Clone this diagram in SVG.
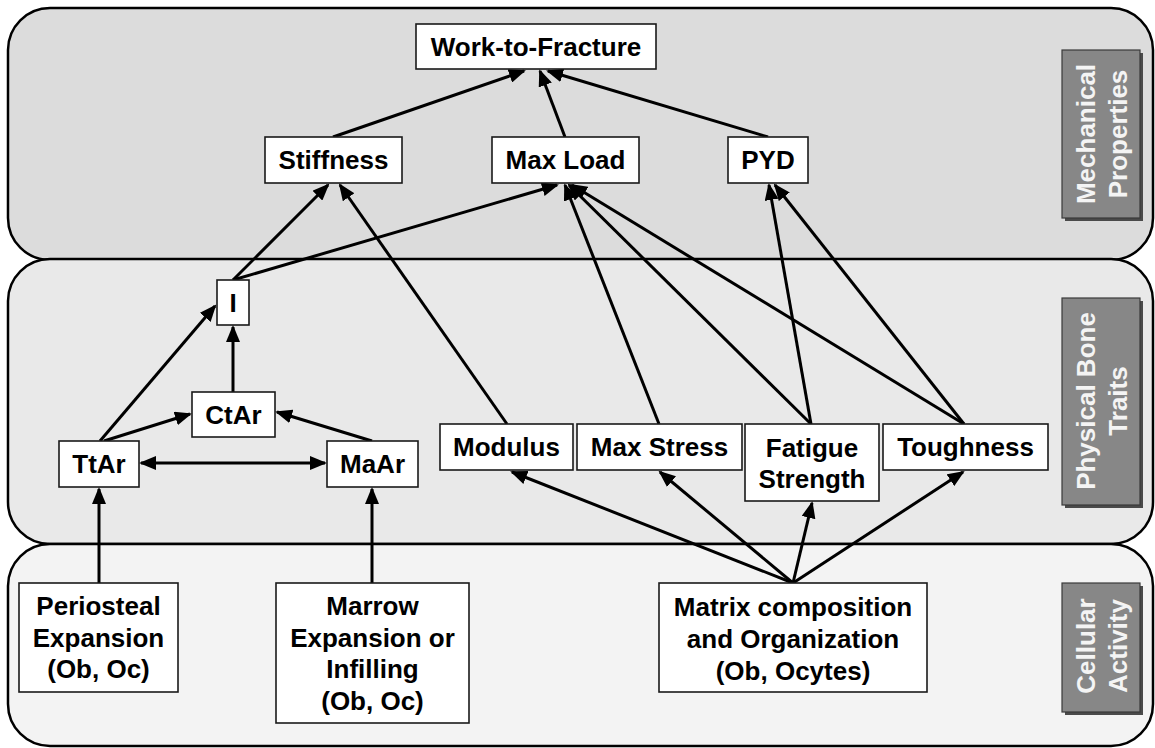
<svg xmlns="http://www.w3.org/2000/svg" width="1155" height="748" viewBox="0 0 1155 748">
<style>
.panel{stroke:#000;stroke-width:2.5}
.node rect{fill:#fff;stroke:#1a1a1a;stroke-width:1.6}
.t{font-family:"Liberation Sans",Arial,Helvetica,sans-serif;font-weight:bold;font-size:26px;fill:#000;text-anchor:middle}
.lab .sh{fill:#4a4a4a}
.lab .bx{fill:#878787;stroke:#3a3a3a;stroke-width:1.2}
.lt{font-family:"Liberation Sans",Arial,Helvetica,sans-serif;font-weight:bold;font-size:26px;fill:#f4f4f4;text-anchor:middle}
.conn line{stroke:#000;stroke-width:3;fill:none}
.arr{marker-end:url(#ah)}
</style>
<defs>
<marker id="ah" viewBox="0 0 17 14" refX="15" refY="7" markerWidth="17" markerHeight="14" markerUnits="userSpaceOnUse" orient="auto-start-reverse">
<path d="M0,0 L17,7 L0,14 z" fill="#000"/>
</marker>
</defs>
<rect width="1155" height="748" fill="#fff"/>
<g id="panels">
<rect class="panel" x="8" y="8" width="1145" height="252" rx="42" ry="42" fill="#dcdcdc"/>
<rect class="panel" x="8" y="259" width="1145" height="285" rx="42" ry="42" fill="#e9e9e9"/>
<rect class="panel" x="8" y="544" width="1145" height="202" rx="42" ry="42" fill="#f3f3f3"/>
</g>
<g id="labels">
<g class="lab" id="lab-mech">
<rect class="sh" x="1065" y="53" width="78" height="168"/>
<rect class="bx" x="1062" y="50" width="78" height="168"/>
<text class="lt" transform="translate(1101,134) rotate(-90)"><tspan x="0" y="-6">Mechanical</tspan><tspan x="0" y="26">Properties</tspan></text>
</g>
<g class="lab" id="lab-phys">
<rect class="sh" x="1065" y="301" width="78" height="207"/>
<rect class="bx" x="1062" y="298" width="78" height="207"/>
<text class="lt" transform="translate(1101,401) rotate(-90)"><tspan x="0" y="-6">Physical Bone</tspan><tspan x="0" y="26">Traits</tspan></text>
</g>
<g class="lab" id="lab-cell">
<rect class="sh" x="1065" y="586" width="78" height="129"/>
<rect class="bx" x="1062" y="583" width="78" height="129"/>
<text class="lt" transform="translate(1101,646) rotate(-90)"><tspan x="0" y="-6">Cellular</tspan><tspan x="0" y="26">Activity</tspan></text>
</g>
</g>
<g id="connectors" class="conn">
<line class="arr" x1="333" y1="137" x2="524" y2="71"/>
<line class="arr" x1="565" y1="137" x2="540" y2="71"/>
<line class="arr" x1="768" y1="137" x2="548" y2="71"/>
<line class="arr" x1="233" y1="280" x2="328" y2="185"/>
<line class="arr" x1="507" y1="424" x2="340" y2="185"/>
<line class="arr" x1="233" y1="280" x2="557" y2="185"/>
<line class="arr" x1="659" y1="424" x2="565" y2="185"/>
<line class="arr" x1="811" y1="424" x2="569" y2="185"/>
<line class="arr" x1="964" y1="424" x2="572" y2="185"/>
<line class="arr" x1="811" y1="424" x2="769" y2="185"/>
<line class="arr" x1="964" y1="424" x2="775" y2="185"/>
<line class="arr" x1="233" y1="392" x2="233" y2="327"/>
<line class="arr" x1="100" y1="441" x2="215" y2="306"/>
<line class="arr" x1="104" y1="441" x2="190" y2="414"/>
<line class="arr" x1="372" y1="441" x2="277" y2="412"/>
<line x1="141" y1="463" x2="325" y2="463" marker-start="url(#ah)" marker-end="url(#ah)"/>
<line class="arr" x1="99" y1="583" x2="99" y2="489"/>
<line class="arr" x1="372" y1="583" x2="372" y2="489"/>
<line class="arr" x1="793" y1="583" x2="512" y2="472"/>
<line class="arr" x1="793" y1="583" x2="660" y2="472"/>
<line class="arr" x1="793" y1="583" x2="812" y2="503"/>
<line class="arr" x1="793" y1="583" x2="963" y2="472"/>
</g>
<g id="n-wtf" class="node"><rect x="416" y="24" width="240" height="45"/><text class="t" x="536" y="55.5">Work-to-Fracture</text></g>
<g id="n-stiffness" class="node"><rect x="265" y="137" width="137" height="46"/><text class="t" x="333.5" y="169">Stiffness</text></g>
<g id="n-maxload" class="node"><rect x="492" y="137" width="147" height="46"/><text class="t" x="565.5" y="169">Max Load</text></g>
<g id="n-pyd" class="node"><rect x="728" y="137" width="80" height="46"/><text class="t" x="768" y="169">PYD</text></g>
<g id="n-i" class="node"><rect x="217" y="280" width="32" height="45"/><text class="t" x="233" y="311.5">I</text></g>
<g id="n-ctar" class="node"><rect x="192" y="392" width="83" height="45"/><text class="t" x="233.5" y="423.5">CtAr</text></g>
<g id="n-ttar" class="node"><rect x="59" y="441" width="80" height="46"/><text class="t" x="99" y="473">TtAr</text></g>
<g id="n-maar" class="node"><rect x="327" y="441" width="91" height="46"/><text class="t" x="372.5" y="473">MaAr</text></g>
<g id="n-modulus" class="node"><rect x="440" y="424" width="133" height="46"/><text class="t" x="506.5" y="456">Modulus</text></g>
<g id="n-maxstress" class="node"><rect x="577" y="424" width="165" height="46"/><text class="t" x="659.5" y="456">Max Stress</text></g>
<g id="n-fatigue" class="node"><rect x="745" y="424" width="134" height="77"/><text class="t" x="812" y="457"><tspan x="812">Fatigue</tspan><tspan x="812" dy="31">Strength</tspan></text></g>
<g id="n-toughness" class="node"><rect x="883" y="424" width="165" height="46"/><text class="t" x="965.5" y="456">Toughness</text></g>
<g id="n-periosteal" class="node"><rect x="19" y="583" width="159" height="109"/><text class="t" x="98.5" y="615"><tspan x="98.5">Periosteal</tspan><tspan x="98.5" dy="31.5">Expansion</tspan><tspan x="98.5" dy="31.5">(Ob, Oc)</tspan></text></g>
<g id="n-marrow" class="node"><rect x="276" y="583" width="193" height="140"/><text class="t" x="372.5" y="615"><tspan x="372.5">Marrow</tspan><tspan x="372.5" dy="31.5">Expansion or</tspan><tspan x="372.5" dy="31.5">Infilling</tspan><tspan x="372.5" dy="31.5">(Ob, Oc)</tspan></text></g>
<g id="n-matrix" class="node"><rect x="659" y="583" width="268" height="109"/><text class="t" x="793" y="615.5"><tspan x="793">Matrix composition</tspan><tspan x="793" dy="32">and Organization</tspan><tspan x="793" dy="32">(Ob, Ocytes)</tspan></text></g>
</svg>
